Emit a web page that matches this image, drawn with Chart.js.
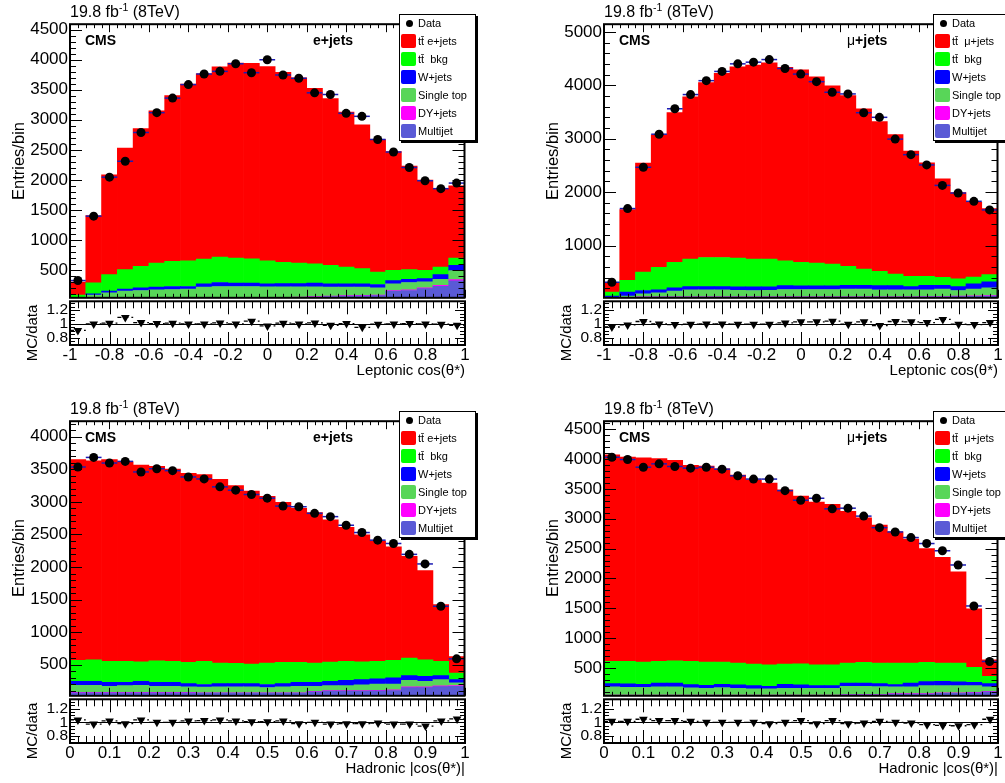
<!DOCTYPE html>
<html>
<head>
<meta charset="utf-8">
<script src="https://cdn.jsdelivr.net/npm/chart.js@4.4.1/dist/chart.umd.min.js"></script>
<style>
body{margin:0;background:#fff;overflow:hidden;width:1005px;height:783px;position:relative;font-family:"Liberation Sans",Arial,sans-serif;}
canvas{position:absolute;}
.t{position:absolute;white-space:pre;color:#000;line-height:1;}
.leg{position:absolute;border:1px solid #000;box-shadow:2px 2px 0 #000;background:#fff;width:75px;height:125px;z-index:5;}
.leg div{position:absolute;}
</style>
</head>
<body>
<script>
// bin centres and tick labels
const lepBins = [-0.96,-0.88,-0.80,-0.72,-0.64,-0.56,-0.48,-0.40,-0.32,-0.24,-0.16,-0.08,0,0.08,0.16,0.24,0.32,0.40,0.48,0.56,0.64,0.72,0.80,0.88,0.96];
const hadBins = [0.02,0.06,0.10,0.14,0.18,0.22,0.26,0.30,0.34,0.38,0.42,0.46,0.50,0.54,0.58,0.62,0.66,0.70,0.74,0.78,0.82,0.86,0.90,0.94,0.98];
const lepTicks = [-1,-0.8,-0.6,-0.4,-0.2,0,0.2,0.4,0.6,0.8,1];
const hadTicks = [0,0.1,0.2,0.3,0.4,0.5,0.6,0.7,0.8,0.9,1];
const yTicksLepE = [500,1000,1500,2000,2500,3000,3500,4000,4500];
const yTicksLepMu = [1000,2000,3000,4000,5000];
const yTicksHadE = [500,1000,1500,2000,2500,3000,3500,4000];
const yTicksHadMu = [500,1000,1500,2000,2500,3000,3500,4000,4500];
const ratioTicks = [0.8,1,1.2];

const legendE = ['Data','tt\u0304 e+jets','tt\u0304  bkg','W+jets','Single top','DY+jets','Multijet'];
const legendMu = ['Data','tt\u0304  \u03bc+jets','tt\u0304  bkg','W+jets','Single top','DY+jets','Multijet'];

// leptonic cos, e+jets
const lepE_multijet = [15,25,28,30,30,30,30,32,35,35,35,35,38,40,45,50,60,65,70,75,150,160,190,230,320];
const lepE_dy = [2,3,3,4,4,4,4,4,5,5,5,5,5,6,6,7,8,8,9,10,10,12,13,15,20];
const lepE_singletop = [13,54,90,115,126,137,142,146,175,186,186,186,177,174,169,163,147,142,136,119,110,120,100,102,150];
const lepE_wjets = [10,23,28,33,44,44,50,44,55,66,55,55,50,55,55,61,55,55,55,55,55,55,55,77,88];
const lepE_ttbkg = [42,181,275,324,357,401,418,429,412,423,418,407,385,352,341,324,308,280,253,209,170,159,137,126,121];
const lepE_ttsig = [218,1119,1661,2024,2294,2534,2761,2940,3083,3165,3246,3252,3230,3163,3084,2920,2777,2580,2392,2202,1975,1724,1500,1300,1201];
const lepE_data = [325,1397,2046,2310,2789,3119,3361,3586,3762,3806,3933,3784,3999,3746,3691,3449,3421,3108,3058,2673,2464,2206,1986,1854,1947];
const lepE_ratio = [0.905,1.0,1.01,1.095,1.02,1.005,1.01,1.0,1.0,1.015,1.0,1.04,0.97,1.01,1.0,1.015,0.98,1.005,0.95,0.995,1.0,1.005,1.0,0.995,0.98];

// leptonic cos, mu+jets
const lepMu_multijet = [12,30,35,35,35,35,35,35,35,35,35,35,35,35,35,35,35,35,35,35,40,40,45,50,55];
const lepMu_dy = [2,3,4,4,4,5,5,5,5,5,5,5,5,5,5,5,5,5,6,6,6,7,8,9,10];
const lepMu_singletop = [8,20,57,76,107,130,130,130,124,118,124,137,137,137,137,143,143,130,129,129,124,136,105,124,143];
const lepMu_wjets = [31,74,62,55,62,62,62,62,62,68,62,74,68,68,68,74,74,81,81,62,87,74,74,99,111];
const lepMu_ttbkg = [74,223,347,421,476,514,545,545,538,520,520,464,439,427,408,353,303,266,217,192,167,148,143,130,136];
const lepMu_ttsig = [173,1322,2040,2479,2806,3039,3273,3448,3581,3634,3674,3620,3606,3488,3337,3195,3000,2803,2607,2346,2126,1845,1615,1398,1235];
const lepMu_data = [313,1692,2465,3084,3560,3826,4086,4259,4401,4432,4481,4314,4209,4067,3869,3838,3486,3400,2992,2701,2509,2126,1983,1828,1667];
const lepMu_ratio = [0.955,0.985,1.035,1.0,0.99,0.995,1.0,1.0,0.995,0.995,0.995,1.015,1.03,1.03,1.04,0.995,1.03,0.975,1.035,1.03,1.02,1.065,0.995,0.99,1.02];

// hadronic |cos|, e+jets
const hadE_multijet = [70,70,70,70,70,70,70,70,65,65,65,65,65,65,65,85,95,95,95,100,105,150,150,165,170];
const hadE_dy = [6,6,6,6,6,6,6,6,6,6,6,6,6,6,6,8,8,8,9,9,10,12,12,12,12];
const hadE_singletop = [110,110,95,105,110,95,95,85,85,90,90,90,80,90,100,78,78,78,88,93,87,100,85,96,40];
const hadE_wjets = [61,61,61,51,61,61,61,51,41,51,51,51,46,51,61,61,66,81,81,81,96,72,77,61,51];
const hadE_ttbkg = [320,330,320,320,300,330,320,325,355,315,310,299,330,325,305,295,295,290,274,269,269,269,253,218,101];
const hadE_ttsig = [3083,3053,3098,3063,3018,2983,2953,2903,2868,2818,2728,2654,2558,2458,2363,2308,2183,2058,1948,1848,1743,1562,1368,873,251];
const hadE_data = [3536,3683,3597,3622,3460,3510,3480,3383,3353,3231,3180,3114,3058,2936,2926,2825,2774,2642,2530,2413,2362,2195,2048,1398,591];
const hadE_ratio = [1.035,0.975,1.02,0.98,1.035,1.0,1.0,1.02,1.025,1.035,1.02,1.01,1.01,1.02,0.98,1.0,0.975,0.98,0.98,0.99,0.975,0.975,0.945,1.02,1.05];

// hadronic |cos|, mu+jets
const hadMu_multijet = [40,40,40,40,40,40,40,40,40,40,40,40,40,40,40,50,50,50,65,65,65,75,75,85,100];
const hadMu_dy = [5,5,5,5,5,5,5,5,5,5,5,5,5,5,5,6,6,6,7,7,7,8,8,9,10];
const hadMu_singletop = [139,133,133,139,139,122,117,128,117,106,106,117,117,117,117,139,139,133,112,112,134,123,123,112,74];
const hadMu_wjets = [55,56,50,66,66,56,50,55,55,55,44,66,55,44,44,55,55,50,39,66,66,72,61,55,55];
const hadMu_ttbkg = [371,376,371,360,371,387,387,371,366,360,359,338,354,348,348,333,344,344,360,333,322,305,316,250,122];
const hadMu_ttsig = [3460,3420,3421,3395,3354,3285,3281,3236,3147,3084,3041,2919,2809,2726,2686,2542,2421,2312,2197,2077,1906,1772,1527,979,277];
const hadMu_data = [4029,3990,3862,3918,3874,3846,3862,3829,3718,3663,3663,3469,3309,3342,3165,3176,3043,2850,2778,2684,2584,2463,2225,1539,610];
const hadMu_ratio = [1.015,1.015,1.045,1.025,1.025,1.015,1.0,1.0,1.0,1.0,0.98,1.0,1.025,0.98,1.025,0.98,0.99,1.015,1.0,0.99,0.965,0.955,0.95,0.965,1.045];

// stack order bottom -> top
const layerColors = ['#5a5ad6','#ff00ff','#58d658','#0000ff','#00ff00','#ff0000'];

const panels = [
  {L:70, R:465, T:24, B:300, RB:345, yMin:38, yMax:4591, yTicks:yTicksLepE, yMinor:100, rMin:0.692, rMax:1.33,
   bins:lepBins, half:0.04, xMin:-1, xMax:1, xTicks:lepTicks, xMinor:0.04,
   layers:[lepE_multijet,lepE_dy,lepE_singletop,lepE_wjets,lepE_ttbkg,lepE_ttsig], data:lepE_data, ratio:lepE_ratio,
   legend:legendE, chan:'e+jets', xTitle:'Leptonic cos(\u03b8*)'},
  {L:604, R:998, T:24, B:300, RB:345, yMin:22, yMax:5143, yTicks:yTicksLepMu, yMinor:200, rMin:0.692, rMax:1.33,
   bins:lepBins, half:0.04, xMin:-1, xMax:1, xTicks:lepTicks, xMinor:0.04,
   layers:[lepMu_multijet,lepMu_dy,lepMu_singletop,lepMu_wjets,lepMu_ttbkg,lepMu_ttsig], data:lepMu_data, ratio:lepMu_ratio,
   legend:legendMu, chan:'<span style="font-weight:normal">\u03bc</span>+jets', xTitle:'Leptonic cos(\u03b8*)'},
  {L:70, R:465, T:421, B:698, RB:743, yMin:24, yMax:4239, yTicks:yTicksHadE, yMinor:100, rMin:0.698, rMax:1.336,
   bins:hadBins, half:0.02, xMin:0, xMax:1, xTicks:hadTicks, xMinor:0.02,
   layers:[hadE_multijet,hadE_dy,hadE_singletop,hadE_wjets,hadE_ttbkg,hadE_ttsig], data:hadE_data, ratio:hadE_ratio,
   legend:legendE, chan:'e+jets', xTitle:'Hadronic |cos(\u03b8*)|'},
  {L:604, R:998, T:421, B:698, RB:743, yMin:35, yMax:4632, yTicks:yTicksHadMu, yMinor:100, rMin:0.698, rMax:1.336,
   bins:hadBins, half:0.02, xMin:0, xMax:1, xTicks:hadTicks, xMinor:0.02,
   layers:[hadMu_multijet,hadMu_dy,hadMu_singletop,hadMu_wjets,hadMu_ttbkg,hadMu_ttsig], data:hadMu_data, ratio:hadMu_ratio,
   legend:legendMu, chan:'<span style="font-weight:normal">\u03bc</span>+jets', xTitle:'Hadronic |cos(\u03b8*)|'}
];

Chart.defaults.font.family = '"Liberation Sans", Arial, sans-serif';
Chart.defaults.color = '#000';

// ROOT-like frame, inward ticks, error bars
const rootAxes = {
  id: 'rootAxes',
  beforeDatasetsDraw(chart) {
    const o = chart.options.plugins.rootAxes;
    if (!o.ratio) return;
    const {ctx, chartArea: a, scales: {x, y}} = chart;
    ctx.save();
    ctx.beginPath(); ctx.rect(a.left, a.top, a.width, a.height); ctx.clip();
    ctx.strokeStyle = '#000';
    ctx.lineWidth = 1;
    const y1 = Math.round(y.getPixelForValue(1)) + 0.5;
    ctx.beginPath(); ctx.moveTo(a.left, y1); ctx.lineTo(a.right, y1); ctx.stroke();
    ctx.setLineDash([4, 3]);
    ctx.lineWidth = 1.3;
    o.bins.forEach((c, i) => {
      const py = y.getPixelForValue(o.values[i]);
      ctx.beginPath();
      ctx.moveTo(x.getPixelForValue(c - o.half), py);
      ctx.lineTo(x.getPixelForValue(c + o.half), py);
      ctx.stroke();
    });
    ctx.restore();
  },
  beforeDatasetDraw(chart, args) {
    const o = chart.options.plugins.rootAxes;
    if (o.ratio || args.meta.type !== 'scatter') return;
    const {ctx, scales: {x, y}} = chart;
    ctx.save();
    ctx.strokeStyle = '#1c1cb4';
    ctx.lineWidth = 1.5;
    o.bins.forEach((c, i) => {
      const py = y.getPixelForValue(o.values[i]);
      ctx.beginPath();
      ctx.moveTo(x.getPixelForValue(c - o.half), py);
      ctx.lineTo(x.getPixelForValue(c + o.half), py);
      ctx.stroke();
    });
    ctx.restore();
  },
  afterDraw(chart) {
    const o = chart.options.plugins.rootAxes;
    const {ctx, chartArea: a, scales: {x, y}} = chart;
    ctx.save();
    ctx.strokeStyle = '#000';
    ctx.lineWidth = 1;
    ctx.beginPath();
    const nx = Math.round((x.max - x.min) / o.xMinor);
    for (let i = 0; i <= nx; i++) {
      const len = i % 5 === 0 ? o.xMaj : o.xMin;
      const px = Math.round(x.getPixelForValue(x.min + i * o.xMinor)) + 0.5;
      ctx.moveTo(px, a.bottom); ctx.lineTo(px, a.bottom - len);
      ctx.moveTo(px, a.top); ctx.lineTo(px, a.top + len);
    }
    const k0 = Math.ceil(y.min / o.yMinor - 1e-9), k1 = Math.floor(y.max / o.yMinor + 1e-9);
    for (let k = k0; k <= k1; k++) {
      const len = k % o.yPer === 0 ? o.yMaj : o.yMin;
      const py = Math.round(y.getPixelForValue(k * o.yMinor)) + 0.5;
      ctx.moveTo(a.left, py); ctx.lineTo(a.left + len, py);
      ctx.moveTo(a.right, py); ctx.lineTo(a.right - len, py);
    }
    ctx.stroke();
    ctx.lineWidth = 2;
    ctx.strokeRect(a.left, a.top, a.width, a.height);
    ctx.restore();
  }
};

function addCanvas(left, top, w, h) {
  const cv = document.createElement('canvas');
  cv.width = w; cv.height = h;
  cv.style.left = left + 'px'; cv.style.top = top + 'px';
  document.body.appendChild(cv);
  return cv;
}

function mainChart(p) {
  const axW = 60, padT = 12, padB = 10, padR = 4;
  const cv = addCanvas(p.L - axW, p.T - padT, axW + (p.R - p.L) + padR, padT + (p.B - p.T) + padB);
  const datasets = p.layers.map((vals, i) => ({
    type: 'bar', data: p.bins.map((x, j) => ({x, y: vals[j]})),
    backgroundColor: layerColors[i], borderWidth: 0, barPercentage: 1, categoryPercentage: 1,
    stack: 'mc', order: 1
  }));
  datasets.push({
    type: 'scatter', data: p.bins.map((x, j) => ({x, y: p.data[j]})),
    backgroundColor: '#000', borderWidth: 0, pointRadius: 4.5, pointStyle: 'circle', stack: 'data', order: 0
  });
  new Chart(cv, {
    type: 'bar',
    data: {datasets},
    options: {
      responsive: false, animation: false, devicePixelRatio: 1,
      layout: {padding: {left: 0, right: padR, top: padT, bottom: padB}},
      plugins: {
        legend: {display: false}, tooltip: {enabled: false},
        rootAxes: {ratio: false, bins: p.bins, values: p.data, half: p.half,
                   xMinor: p.xMinor, xMaj: 8, xMin: 4, yMinor: p.yMinor, yPer: 5, yMaj: 12, yMin: 6}
      },
      scales: {
        x: {type: 'linear', min: p.xMin, max: p.xMax, offset: false, stacked: true, display: false},
        y: {type: 'linear', min: p.yMin, max: p.yMax, stacked: true,
            afterFit: s => { s.width = axW; },
            afterBuildTicks: s => { s.ticks = p.yTicks.map(v => ({value: v})); },
            grid: {display: false, drawTicks: false}, border: {display: false},
            ticks: {padding: 2, color: '#000', font: {size: 17}, callback: v => String(v)}}
      }
    },
    plugins: [rootAxes]
  });
}

function ratioChart(p) {
  const axW = 60, padT = 10, axH = 30, padR = 14;
  const cv = addCanvas(p.L - axW, p.B - padT, axW + (p.R - p.L) + padR, padT + (p.RB - p.B) + axH);
  new Chart(cv, {
    type: 'scatter',
    data: {datasets: [{
      data: p.bins.map((x, j) => ({x, y: p.ratio[j]})),
      backgroundColor: '#000', borderWidth: 0, pointRadius: 5, pointStyle: 'triangle', rotation: 180
    }]},
    options: {
      responsive: false, animation: false, devicePixelRatio: 1,
      layout: {padding: {left: 0, right: padR, top: padT, bottom: 0}},
      plugins: {
        legend: {display: false}, tooltip: {enabled: false},
        rootAxes: {ratio: true, bins: p.bins, values: p.ratio, half: p.half,
                   xMinor: p.xMinor, xMaj: 13, xMin: 7, yMinor: 0.05, yPer: 4, yMaj: 10, yMin: 5}
      },
      scales: {
        x: {type: 'linear', min: p.xMin, max: p.xMax,
            afterFit: s => { s.height = axH; },
            afterBuildTicks: s => { s.ticks = p.xTicks.map(v => ({value: v})); },
            grid: {display: false, drawTicks: false}, border: {display: false},
            ticks: {padding: 0, color: '#000', maxRotation: 0, font: {size: 17}, callback: v => String(v)}},
        y: {type: 'linear', min: p.rMin, max: p.rMax,
            afterFit: s => { s.width = axW; },
            afterBuildTicks: s => { s.ticks = ratioTicks.map(v => ({value: v})); },
            grid: {display: false, drawTicks: false}, border: {display: false},
            ticks: {padding: 2, color: '#000', font: {size: 15.5}, callback: v => String(v)}}
      }
    },
    plugins: [rootAxes]
  });
}

function txt(html, x, base, size, style) {
  const d = document.createElement('div');
  d.className = 't';
  d.innerHTML = html;
  d.style.fontSize = size + 'px';
  d.style.left = x + 'px';
  d.style.top = (base - 0.85 * size) + 'px';
  Object.assign(d.style, style || {});
  document.body.appendChild(d);
  return d;
}

function rotated(text, cx, cy, size) {
  const d = txt(text, cx, 0, size);
  d.style.top = cy + 'px';
  d.style.transform = 'translate(-50%,-50%) rotate(-90deg)';
}

function legendBox(p) {
  const box = document.createElement('div');
  box.className = 'leg';
  box.style.left = (p.L + 329) + 'px';
  box.style.top = (p.T - 10) + 'px';
  const cols = layerColors.slice().reverse();
  p.legend.forEach((lab, i) => {
    const cy = 8 + 18 * i;
    if (i === 0) {
      const dot = document.createElement('div');
      Object.assign(dot.style, {left: '6px', top: (cy - 3.5) + 'px', width: '7px', height: '7px', borderRadius: '50%', background: '#000'});
      box.appendChild(dot);
    } else {
      const sw = document.createElement('div');
      Object.assign(sw.style, {left: '1px', top: (cy - 7) + 'px', width: '15px', height: '14px', background: cols[i - 1], borderRadius: '2px'});
      box.appendChild(sw);
    }
    const t = document.createElement('div');
    t.textContent = lab;
    Object.assign(t.style, {left: '18px', top: (cy - 6.5) + 'px', fontSize: '11px', lineHeight: '13px', whiteSpace: 'pre'});
    box.appendChild(t);
  });
  document.body.appendChild(box);
}

panels.forEach(p => {
  mainChart(p);
  ratioChart(p);
  txt('19.8 fb<sup style="font-size:10.5px;vertical-align:6px;line-height:0">-1</sup> (8TeV)', p.L, p.T - 6, 16);
  txt('<b>CMS</b>', p.L + 15, p.T + 21, 14);
  txt('<b>' + p.chan + '</b>', p.L + 243, p.T + 21, 14);
  rotated('Entries/bin', p.L - 52.5, p.T + 137, 16.5);
  rotated('MC/data', p.L - 39, p.B + 33, 15);
  txt(p.xTitle, p.R, p.RB + 30, 15, {transform: 'translateX(-100%)'});
  legendBox(p);
});
</script>
</body>
</html>
